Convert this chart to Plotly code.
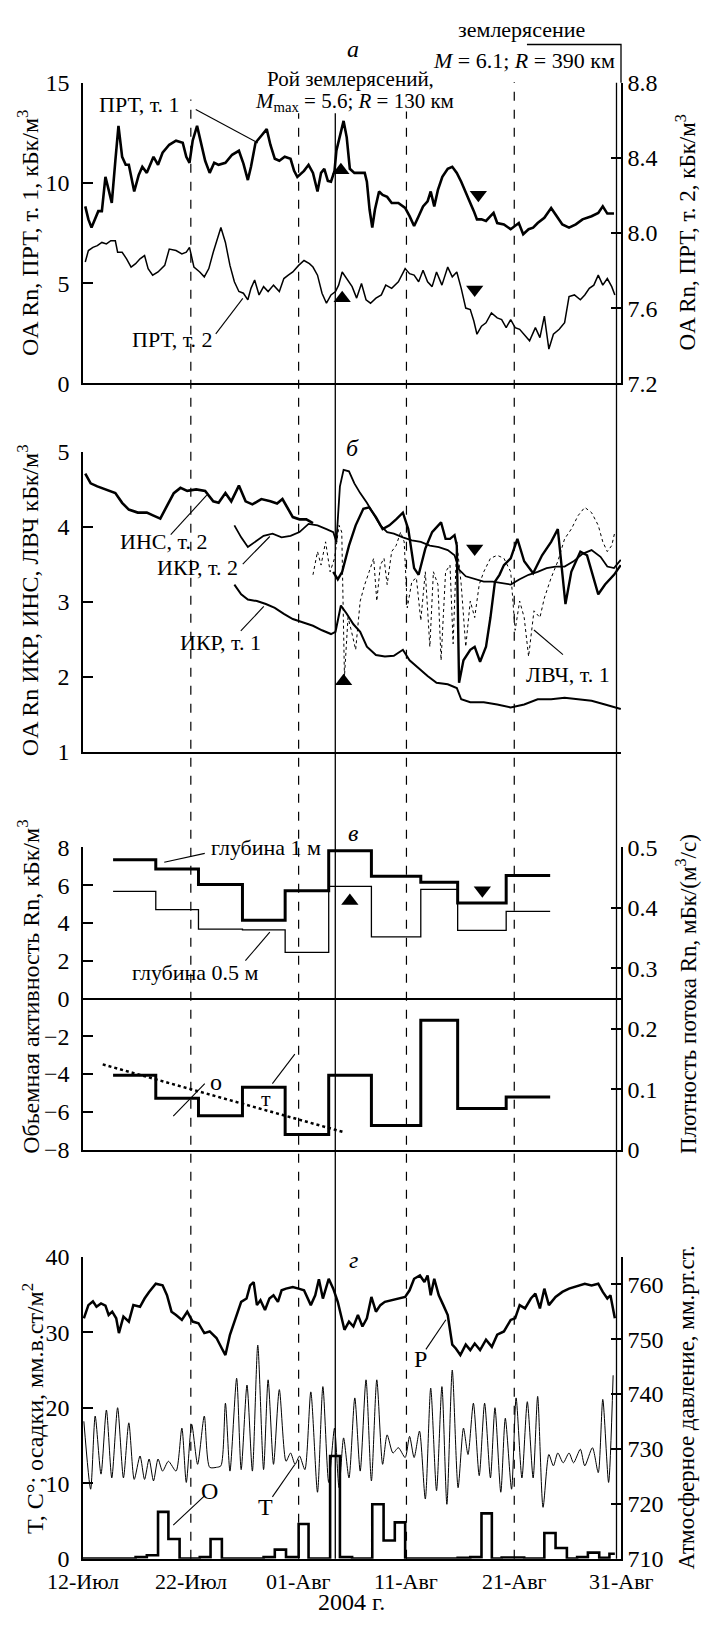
import plotly.graph_objects as go

# ---------------- DATA (day offset from 12-Jul-2004) ----------------
# Panel a: ПРТ, т.1 (left axis, кБк/м3)
prt1_day = [0.21,0.5,0.79,1.13,1.42,1.75,2.08,2.38,2.67,3.0,3.29,3.63,3.96,4.25,4.75,5.17,5.5,5.92,6.54,6.96,
            7.38,8.0,8.63,9.25,9.58,9.88,10.17,10.58,10.92,11.33,11.75,12.17,12.58,13.21,13.83,14.46,14.88,15.29,
            15.58,16.0,16.54,17.04,17.38,17.79,18.21,18.71,19.25,19.58,19.88,20.5,20.92,21.33,21.75,22.08,22.38,
            22.71,23.0,23.33,23.5,23.83,24.17,24.46,24.75,25.17,25.71,26.13,26.33,26.58,26.83,27.08,27.46,27.79,
            28.21,28.63,29.25,29.88,30.29,30.71,31.13,31.54,31.96,32.25,32.58,32.92,33.33,33.83,34.25,34.67,35.08,
            35.5,35.92,36.25,36.54,36.96,37.38,37.79,38.08,38.42,39.04,39.67,40.08,40.42,40.83,41.33,41.75,42.17,
            42.79,43.42,43.83,44.46,45.08,45.71,46.33,47.17,47.79,48.21,48.63,49.25]
prt1_val = [8.83,8.18,7.77,8.18,8.59,8.59,10.3,9.65,9.0,11.1,12.84,11.3,10.9,10.9,9.57,10.4,10.8,10.5,11.3,10.9,
            11.5,11.9,12.1,12.0,11.3,11.0,12.1,12.84,12.1,11.1,10.5,11.0,10.9,11.0,11.4,11.6,10.96,10.14,
            10.8,12.0,12.35,12.68,11.9,11.2,11.1,11.3,11.2,10.6,10.3,10.6,10.9,10.5,9.57,10.5,10.7,
            10.1,10.06,10.6,11.6,12.35,13.09,12.27,10.7,10.5,10.5,10.5,10.06,8.67,7.77,8.67,9.57,9.4,
            9.3,9.0,9.0,8.75,8.34,7.85,8.34,8.83,9.08,9.57,8.83,9.65,10.3,10.7,10.8,10.5,10.06,
            9.57,9.0,8.59,8.18,8.18,8.1,8.34,8.5,8.0,7.93,7.69,7.85,8.0,7.44,7.69,7.77,8.0,
            8.26,8.75,8.42,7.93,7.77,7.93,8.18,8.34,8.5,8.83,8.47,8.47]

# Panel a: ПРТ, т.2 (right axis, кБк/м3)
prt2_day = [0.21,0.5,0.92,1.33,1.75,2.17,2.58,3.0,3.21,3.63,4.04,4.46,4.88,5.29,5.71,6.04,6.46,6.96,7.58,8.0,
            8.63,9.17,9.58,9.88,10.29,10.83,11.25,11.67,12.08,12.46,12.79,13.21,13.63,14.04,14.46,14.88,15.29,
            15.58,15.92,16.33,16.75,17.17,17.67,18.21,18.63,19.04,19.46,20.0,20.5,21.0,21.33,21.75,22.17,22.58,
            23.0,23.42,23.71,24.04,24.46,24.96,25.38,25.83,26.25,26.67,27.17,27.67,28.08,28.63,29.25,29.88,30.29,
            30.71,31.13,31.54,31.96,32.38,32.79,33.29,33.83,34.25,34.67,35.08,35.5,35.92,36.25,36.54,36.96,37.38,
            37.88,38.42,38.83,39.25,39.67,40.08,40.5,40.92,41.42,41.96,42.38,42.79,43.21,43.63,44.17,44.67,45.08,
            45.58,46.13,46.54,46.96,47.38,47.79,48.21,48.63,49.04,49.33]
prt2_val = [7.846,7.907,7.924,7.933,7.950,7.942,7.959,7.959,7.898,7.898,7.863,7.819,7.837,7.863,7.880,7.811,7.776,
            7.793,7.828,7.915,7.907,7.889,7.898,7.924,7.819,7.793,7.767,7.811,7.898,7.968,8.029,7.950,7.828,7.741,
            7.689,7.680,7.645,7.706,7.750,7.671,7.715,7.689,7.723,7.689,7.758,7.776,7.793,7.828,7.854,7.837,7.819,
            7.776,7.680,7.627,7.671,7.689,7.723,7.793,7.758,7.715,7.654,7.732,7.645,7.627,7.654,7.671,7.723,7.706,
            7.741,7.811,7.784,7.776,7.741,7.802,7.741,7.715,7.793,7.723,7.819,7.767,7.793,7.706,7.601,7.593,7.532,
            7.462,7.505,7.523,7.575,7.549,7.540,7.497,7.540,7.497,7.488,7.462,7.427,7.497,7.444,7.558,7.383,7.462,
            7.488,7.523,7.662,7.671,7.645,7.671,7.706,7.723,7.776,7.723,7.758,7.715,7.671]

# Panel б
ins2_day = [0.21,0.71,1.33,2.17,3.0,3.63,4.25,5.08,5.92,6.54,7.17,7.79,8.42,9.04,9.67,10.5,11.33,12.08,12.58,13.21,
            13.75,14.46,15.08,15.71,16.54,17.38,18.0,18.5,19.04,19.46,20.08,20.71,21.33]
ins2_val = [4.71,4.58,4.54,4.50,4.45,4.32,4.23,4.19,4.19,4.15,4.11,4.28,4.45,4.52,4.48,4.50,4.48,4.34,4.32,4.45,
            4.34,4.55,4.34,4.30,4.37,4.34,4.31,4.37,4.23,4.13,4.10,4.10,4.05]

ikr2_day = [14.04,14.67,15.29,15.92,16.75,17.58,18.42,19.25,20.08,20.92,21.75,22.58,23.21,23.5,23.83,24.17,24.67,
            25.17,25.71,26.33,26.96,27.58,28.21,28.83,29.67,30.5,31.33,32.17,33.0,33.83,34.46,34.88,35.5,36.33,
            37.17,38.0,38.83,39.67,40.5,41.33,42.17,43.0,43.83,44.67,45.5,46.33,47.17,48.0,48.63,49.25,49.88]
ikr2_val = [4.02,3.86,3.73,3.79,3.88,3.91,3.86,3.88,3.93,4.04,4.02,3.97,3.93,3.80,4.54,4.76,4.74,
            4.58,4.45,4.32,4.17,4.02,3.93,3.91,3.86,3.82,3.80,3.75,3.73,3.69,3.62,3.43,3.34,3.30,
            3.27,3.27,3.25,3.23,3.30,3.36,3.40,3.45,3.47,3.47,3.54,3.64,3.69,3.60,3.47,3.45,3.56]

late_day = [23.21,23.63,24.04,24.67,25.29,26.0,26.54,27.17,27.79,28.42,29.04,29.67,30.17,30.71,31.13,31.75,32.38,
            33.21,33.63,34.04,34.46,34.67,34.88,35.29,35.92,36.33,36.83,37.38,37.79,38.21,38.63,39.04,39.67,40.29,
            40.92,41.75,42.58,43.42,44.04,44.75,45.29,46.13,46.75,47.17,47.79,48.42,49.25,49.88]
late_val = [3.40,3.30,3.40,3.75,4.02,4.24,4.26,4.13,3.97,4.02,4.10,4.19,3.97,3.45,3.36,3.71,3.93,
            4.06,3.84,3.84,3.89,3.75,1.92,2.22,2.36,2.40,2.20,2.40,2.79,3.27,3.36,3.49,3.58,3.84,
            3.54,3.38,3.62,3.80,3.97,2.97,3.40,3.67,3.62,3.40,3.10,3.23,3.36,3.49]

lvch1_day = [21.33,21.75,22.08,22.5,22.92,23.33,23.75,24.0,24.25,24.58,24.88,25.29,25.71,26.13,26.54,26.96,27.25,
             27.58,27.92,28.21,28.63,29.04,29.46,29.79,30.08,30.5,30.92,31.33,31.75,32.17,32.5,32.92,33.21,33.63,
             34.04,34.33,34.67,35.08,35.5,35.92,36.33,36.75,37.17,37.79,38.42,39.04,39.67,40.08,40.5,40.92,41.33,
             41.83,42.38,42.79,43.42,44.04,44.67,45.29,45.92,46.54,47.17,47.79,48.21,48.63,49.04,49.33]
lvch1_val = [3.36,3.67,3.49,3.80,3.40,3.58,4.02,3.93,2.0,2.79,2.62,2.36,3.01,3.23,3.40,3.58,3.01,
             3.49,3.58,3.23,3.67,3.75,3.93,3.80,2.92,3.27,3.32,2.75,3.40,2.40,3.40,3.23,2.22,3.40,
             3.49,2.44,3.80,3.23,2.40,3.01,2.79,3.23,3.40,3.58,3.62,3.58,3.40,2.62,3.01,2.79,2.27,
             2.88,2.79,3.05,3.32,3.54,3.84,3.97,4.15,4.26,4.19,4.02,3.80,3.67,3.75,3.93]

ikr1_day = [14.04,14.67,15.29,16.13,16.96,17.79,18.63,19.46,20.29,21.33,22.17,23.0,23.42,23.92,24.46,25.08,25.71,
            26.33,27.17,28.0,28.83,29.67,30.29,31.13,31.96,32.79,33.83,34.67,35.08,35.92,37.17,38.42,39.67,40.92,
            42.17,43.42,44.67,45.92,47.17,48.42,49.88]
ikr1_val = [3.23,3.10,3.03,3.01,2.97,2.92,2.84,2.77,2.73,2.68,2.62,2.57,2.60,2.95,2.84,2.70,2.60,
            2.40,2.29,2.27,2.28,2.36,2.22,2.11,2.01,1.92,1.90,1.85,1.70,1.66,1.66,1.63,1.59,1.63,
            1.70,1.70,1.72,1.70,1.68,1.63,1.57]

# Panel в: weekly steps
step_day = [2.79,6.75,10.71,14.79,18.75,22.79,26.75,31.33,34.75,39.25,43.33]
depth1 = [7.35,6.86,6.04,4.15,5.71,7.83,6.48,6.16,5.06,6.51]
depth05 = [5.67,4.71,3.68,3.64,2.44,5.94,3.26,5.78,3.61,4.62]
flux = [0.123,0.085,0.056,0.103,0.025,0.123,0.040,0.214,0.068,0.087]
trend_day = [1.83,24.25]
trend_val = [-3.49,-7.09]

# Panel г
temp_day = [0.08,0.71,1.13,1.67,2.17,2.67,3.21,3.75,4.25,4.75,5.29,5.71,6.13,6.54,6.96,7.38,7.92,8.63,9.17,9.58,
            10.08,10.63,11.25,11.75,12.38,12.79,13.21,13.63,14.25,14.67,15.21,15.71,16.21,16.75,17.17,17.67,18.21,
            18.83,19.25,19.67,20.08,20.58,21.13,21.75,22.25,22.79,23.33,23.75,24.17,24.67,25.21,25.71,26.25,26.75,
            27.25,27.79,28.21,28.75,29.25,29.88,30.29,30.71,31.21,31.75,32.25,32.79,33.29,33.75,34.25,34.79,35.29,
            35.71,36.21,36.75,37.25,37.79,38.21,38.75,39.17,39.75,40.17,40.71,41.21,41.75,42.17,42.67,43.21,43.63,
            44.04,44.54,45.08,45.5,46.13,46.54,47.25,47.79,48.21,48.75,49.17]
temp_val = [18.2,9.2,18.9,11.2,19.7,10.7,20.0,10.7,18.0,10.5,13.6,10.5,13.2,10.3,13.2,11.6,12.9,11.6,17.3,10.1,
            17.8,12.5,18.9,12.1,12.1,12.3,20.6,11.6,23.9,11.8,23.0,11.6,28.3,11.8,23.7,12.5,22.4,
            12.9,14.0,12.5,13.6,11.8,22.1,8.8,22.8,10.1,17.3,9.4,16.0,10.7,21.3,11.6,23.7,10.3,
            23.7,12.5,16.4,14.0,14.7,13.4,16.2,13.4,16.9,7.9,22.6,9.0,22.8,7.2,25.0,9.4,17.3,
            13.8,20.6,11.0,20.6,10.7,20.0,8.8,18.6,9.2,21.3,10.7,20.8,10.7,21.5,6.8,13.8,12.3,
            14.0,12.7,14.0,12.7,14.5,12.3,14.7,11.4,21.1,10.1,24.3]

pres_day = [0.08,0.5,0.92,1.25,1.67,2.08,2.38,2.71,3.08,3.33,3.75,4.25,4.67,5.29,5.71,6.13,6.75,7.38,7.79,8.21,
            8.63,9.17,9.67,10.17,10.71,11.25,11.75,12.38,12.88,13.21,13.63,14.04,14.67,15.17,15.5,15.83,16.13,
            16.46,16.88,17.29,17.67,18.08,18.42,18.83,19.46,20.0,20.5,21.13,21.54,21.88,22.25,22.79,23.21,23.63,
            23.96,24.25,24.67,25.08,25.5,25.92,26.33,26.75,27.17,27.58,28.0,28.63,29.25,29.88,30.29,30.71,31.25,
            31.67,31.96,32.25,32.58,33.0,33.42,33.83,34.25,34.58,35.0,35.5,35.92,36.33,36.83,37.38,37.92,38.42,
            39.04,39.67,40.08,40.5,41.0,41.54,41.96,42.38,42.79,43.21,43.83,44.46,45.08,45.92,46.54,47.17,47.79,
            48.21,48.63,48.92,49.33]
pres_val = [753.8,756.2,756.9,755.9,756.5,756.1,754.4,755.0,753.8,751.1,754.1,753.2,756.2,755.9,757.4,758.6,760.1,
            759.8,758.0,755.0,754.4,753.5,755.0,753.2,752.9,751.1,751.4,750.2,748.3,747.1,750.8,753.2,756.8,757.4,
            759.8,760.4,756.2,757.1,755.3,757.4,758.0,756.8,758.9,759.2,759.5,759.2,758.9,756.2,758.0,760.9,757.4,
            761.0,759.2,756.8,754.1,751.7,753.2,752.3,754.4,752.3,753.8,757.7,755.0,756.2,756.8,757.1,757.4,757.7,
            758.9,761.0,761.6,760.4,761.6,758.0,761.0,758.0,756.2,754.4,749.0,748.3,747.1,749.0,748.0,749.2,748.0,
            749.9,748.6,750.8,751.4,753.5,753.8,756.2,755.6,757.4,758.3,755.6,759.2,756.2,757.7,758.6,759.2,759.8,
            760.1,759.8,760.1,758.6,757.4,758.0,753.8]

rain_day = [0,4.88,5.92,6.96,7.92,8.96,10.83,11.83,12.88,16.75,17.79,18.83,20.0,20.92,22.92,23.83,24.96,26.83,27.88,
            28.92,29.88,34.75,35.92,36.96,37.92,38.83,40.92,42.79,43.83,44.88,45.83,46.83,47.88,48.83,49.33]
rain_val = [0,0.2,0.45,6.2,2.6,0,0.2,2.6,0,0.2,1.2,0.2,4.6,0,13.6,0.2,0,7.2,2.4,4.8,0,0.1,0.2,6.0,0,0.15,0,
            3.4,1.4,0,0.2,0.8,0.1,0.65,0.65]

# markers
up_a_day = [23.92, 24.04]; up_a_val = [10.63, 4.25]
dn_a_day = [36.67, 36.33]; dn_a_val = [9.41, 4.69]
up_b_day = [24.17]; up_b_val = [1.94]
dn_b_day = [36.33]; dn_b_val = [3.71]
up_v_day = [24.75]; up_v_val = [5.17]
dn_v_day = [37.04]; dn_v_val = [5.73]

xtick_vals = [0, 10, 20, 30, 40, 49.9]
xtick_text = ["12-Июл", "22-Июл", "01-Авг", "11-Авг", "21-Авг", "31-Авг"]
dash_days = [10, 20, 30, 40]
swarm_day = 23.4

# ---------------- LAYOUT HELPERS ----------------
W, H = 703, 1629
L, R = 83.3, 621.0
FONT = "Liberation Serif"


def fx(x):
    return (x - L) / (R - L)


def fy(y):
    return 1 - y / H


dom_a = [fy(376.5), fy(70.7)]
dom_b = [fy(750.7), fy(446.0)]
dom_v = [fy(1155.0), fy(848.0)]
dom_g = [fy(1570.7), fy(1264.0)]

fig = go.Figure()
K = "black"


def line(xa, ya, xs, ys, w, dash=None, shape="linear", smooth=None):
    ln = dict(color=K, width=w, dash=dash, shape=shape)
    if smooth is not None:
        ln["smoothing"] = smooth
    fig.add_trace(go.Scatter(x=xs, y=ys, xaxis=xa, yaxis=ya, mode="lines", line=ln, hoverinfo="skip"))


def mark(xa, ya, xs, ys, sym):
    fig.add_trace(go.Scatter(x=xs, y=ys, xaxis=xa, yaxis=ya, mode="markers",
                             marker=dict(symbol=sym, color=K, size=15), hoverinfo="skip"))


# panel a
line("x", "y", prt1_day, prt1_val, 2.6)
line("x", "y2", prt2_day, prt2_val, 1.5)
mark("x", "y", up_a_day, up_a_val, "triangle-up")
mark("x", "y", dn_a_day, dn_a_val, "triangle-down")
# panel б
line("x2", "y3", ins2_day, ins2_val, 2.6)
line("x2", "y3", ikr2_day, ikr2_val, 1.8)
line("x2", "y3", late_day, late_val, 2.4)
line("x2", "y3", lvch1_day, lvch1_val, 1.0, dash="dot")
line("x2", "y3", ikr1_day, ikr1_val, 2.0)
mark("x2", "y3", up_b_day, up_b_val, "triangle-up")
mark("x2", "y3", dn_b_day, dn_b_val, "triangle-down")
# panel в
line("x3", "y4", step_day, depth1 + [depth1[-1]], 3.0, shape="hv")
line("x3", "y4", step_day, depth05 + [depth05[-1]], 1.3, shape="hv")
line("x3", "y5", step_day, flux + [flux[-1]], 3.0, shape="hv")
line("x3", "y4", trend_day, trend_val, 2.5, dash="dot")
mark("x3", "y4", up_v_day, up_v_val, "triangle-up")
mark("x3", "y4", dn_v_day, dn_v_val, "triangle-down")
# panel г
line("x4", "y6", temp_day, temp_val, 1.0, shape="spline", smooth=0.7)
line("x4", "y7", pres_day, pres_val, 2.5)
line("x4", "y6", rain_day, rain_val, 2.6, shape="hv")

ax_common = dict(showline=True, linecolor=K, linewidth=1.5, showgrid=False, zeroline=False,
                 tickfont=dict(family=FONT, size=24, color=K))
xr = [0, 49.9]
xa = dict(ax_common, range=xr, domain=[0, 1], ticks="", showticklabels=False)
ya = dict(ax_common, ticks="inside", ticklen=10, tickwidth=1.5, tickcolor=K)
yl = dict(ya, ticklabelstandoff=7)

fig.update_layout(
    width=W, height=H, margin=dict(l=L, r=W - R, t=0, b=0),
    paper_bgcolor="white", plot_bgcolor="white", showlegend=False,
    font=dict(family=FONT, size=22, color=K),
    xaxis=dict(xa, anchor="y"),
    xaxis2=dict(xa, anchor="y3"),
    xaxis3=dict(xa, anchor="y4"),
    xaxis4=dict(xa, anchor="y6"),
    yaxis=dict(yl, domain=dom_a, range=[0, 15], tickvals=[0, 5, 10, 15], anchor="x"),
    yaxis2=dict(ya, overlaying="y", side="right", anchor="x", range=[7.2, 8.8],
                tickvals=[7.2, 7.6, 8.0, 8.4, 8.8], tickformat=".1f"),
    yaxis3=dict(yl, domain=dom_b, range=[1, 5], tickvals=[1, 2, 3, 4, 5], anchor="x2"),
    yaxis4=dict(yl, domain=dom_v, range=[-8, 8], tickvals=list(range(-8, 9, 2)), anchor="x3",
                zeroline=True, zerolinecolor=K, zerolinewidth=1.5),
    yaxis5=dict(ya, overlaying="y4", side="right", anchor="x3", range=[0, 0.5],
                tickvals=[0, 0.1, 0.2, 0.3, 0.4, 0.5]),
    yaxis6=dict(yl, domain=dom_g, range=[0, 40], tickvals=[0, 10, 20, 30, 40], anchor="x4"),
    yaxis7=dict(ya, overlaying="y6", side="right", anchor="x4", range=[710, 765],
                tickvals=[710, 720, 730, 740, 750, 760]),
)

shapes = []
dash_tops = [88, 102, 100, 70]
for d, top in zip(dash_days, dash_tops):
    shapes.append(dict(type="line", xref="x4", yref="paper", x0=d, x1=d, y0=fy(1570.7), y1=fy(top),
                       line=dict(color=K, width=1.2, dash="dash")))
shapes.append(dict(type="line", xref="x4", yref="paper", x0=swarm_day, x1=swarm_day, y0=fy(1570.7), y1=fy(102),
                   line=dict(color=K, width=1.3)))
shapes.append(dict(type="line", xref="paper", yref="paper", x0=fx(616.5), x1=fx(616.5), y0=fy(1570.7), y1=fy(71),
                   line=dict(color=K, width=1.3)))
shapes.append(dict(type="path", xref="paper", yref="paper",
                   path=f"M {fx(527)} {fy(32)} L {fx(621)} {fy(32)} L {fx(621)} {fy(71)}",
                   line=dict(color=K, width=1.3)))
leaders = [((196, 98), (258, 132)), ((216, 326), (243, 290)),
           ((171, 530), (207, 490)), ((243, 560), (270, 532)), ((241, 628), (264, 603)),
           ((563, 652), (534, 627)),
           ((164.5, 863), (205, 854)), ((245.6, 963), (270, 934)),
           ((173.5, 1121), (205, 1088)), ((272.6, 1088), (295, 1058)),
           ((173.5, 1536.7), (205, 1506.7)), ((272.6, 1508), (295, 1475)), ((426, 1358), (446, 1328))]
for (x0, y0), (x1, y1) in leaders:
    shapes.append(dict(type="line", xref="paper", yref="paper", x0=fx(x0), y0=fy(y0), x1=fx(x1), y1=fy(y1),
                       line=dict(color=K, width=1.1)))
fig.update_layout(shapes=shapes)

anns = []


def txt(x, y, s, size=22, angle=0):
    anns.append(dict(x=fx(x), y=fy(y), xref="paper", yref="paper", text=s, showarrow=False,
                     xanchor="center", yanchor="middle", textangle=angle,
                     font=dict(family=FONT, size=size, color=K)))


# x tick labels of the bottom panel, placed at their dates
for v, t in zip(xtick_vals, xtick_text):
    anns.append(dict(x=v, y=fy(1594), xref="x4", yref="paper", text=t, showarrow=False,
                     xanchor="center", yanchor="middle", font=dict(family=FONT, size=22, color=K)))

txt(522, 17, "землерясение")
txt(524, 48, "<i>M</i> = 6.1; <i>R</i> = 390 км")
txt(353, 37, "<i>а</i>", 24)
txt(351, 67, "Рой землерясений,", 21)
txt(355, 90, "<i>M</i><sub>max</sub> = 5.6; <i>R</i> = 130 км", 21)
txt(140, 93, "ПРТ, т. 1")
txt(173, 332, "ПРТ, т. 2")
txt(353, 442, "<i>б</i>", 24)
txt(164, 537, "ИНС, т. 2")
txt(198, 563, "ИКР, т. 2")
txt(221, 640, "ИКР, т. 1")
txt(568, 672, "ЛВЧ, т. 1")
txt(353, 833, "<i>в</i>", 24)
txt(266, 848, "глубина 1 м")
txt(196, 975, "глубина 0.5 м")
txt(216, 1086, "о", 24)
txt(266, 1103, "т", 22)
txt(354, 1267, "<i>г</i>", 24)
txt(210, 1502, "О", 24)
txt(266, 1518, "Т", 24)
txt(421, 1368, "Р", 24)
txt(352, 1615, "2004 г.", 24)
txt(29, 223, "OA Rn, ПРТ, т. 1, кБк/м<sup>3</sup>", 24, -90)
txt(686, 223, "OA Rn, ПРТ, т. 2, кБк/м<sup>3</sup>", 23, -90)
txt(29, 597, "OA Rn ИКР, ИНС, ЛВЧ кБк/м<sup>3</sup>", 24, -90)
txt(29, 990, "Обьемная активность Rn, кБк/м<sup>3</sup>", 24, -90)
txt(686, 997, "Плотность потока Rn, мБк/(м<sup>3</sup>/с)", 23, -90)
txt(34, 1418, "T, C°; осадки, мм.в.ст/м<sup>2</sup>", 24, -90)
txt(686, 1417, "Атмосферное давление, мм.рт.ст.", 23, -90)
fig.update_layout(annotations=anns)

fig.write_html("out.html")
